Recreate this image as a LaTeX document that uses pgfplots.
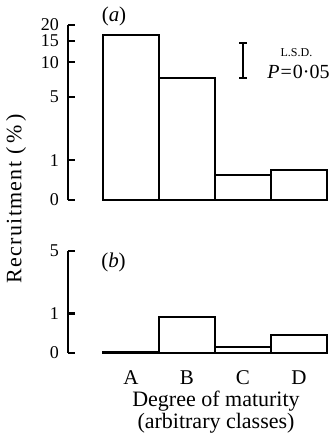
\documentclass[border=0pt]{standalone}
\usepackage{pgfplots}
\pgfplotsset{compat=1.18}
\usepackage{fontspec}
\setmainfont{Liberation Serif}
\begin{document}
\begin{tikzpicture}[x=1pt,y=1pt]
\useasboundingbox (0,0) rectangle (164.5,218);
\pgfplotsset{
  common/.style={
    scale only axis, anchor=south west, ymin=0,
    enlargelimits=false,
    y coord trafo/.code={\pgfmathparse{log10(##1+1)}},
    y coord inv trafo/.code={\pgfmathparse{10^(##1)-1}},
    clip=false,
  },
  yax/.style={
    common, width=20pt, xmin=0, xmax=1,
    axis x line=none, axis y line*=left,
    major tick length=0pt,
    y axis line style={line width=1pt, black},
    ytick style={draw=none},
    /pgf/number format/assume math mode=true,
    yticklabel style={font=\fontsize{9}{10}\selectfont, xshift=-1pt},
  },
  myax/.style={
    common, width=112pt,
    xmin=-0.5, xmax=3.5,
    axis y line=none,
    axis x line*=bottom, x axis line style={draw=none},
    xtick={0,1,2,3}, major x tick style={draw=none},
    xticklabel style={font=\fontsize{10.5}{11}\selectfont, yshift=-1pt},
    ybar, bar width=1,
  }
}
% y scale (a)
\begin{axis}[yax, at={(34pt,118pt)}, height=87.5pt, ymax=20,
  ytick={0,1,5,10,15,20}, yticklabels={0,1,5,10,15,20}]
\draw[line width=1.1pt] (axis cs:0,0) -- ++(3.5pt,0);
\draw[line width=1.1pt] (axis cs:0,1) -- ++(3.5pt,0);
\draw[line width=1.1pt] (axis cs:0,5) -- ++(3.5pt,0);
\draw[line width=1.1pt] (axis cs:0,10) -- ++(3.5pt,0);
\draw[line width=1.1pt] (axis cs:0,15) -- ++(3.5pt,0);
\draw[line width=1.1pt] (axis cs:0,20) -- ++(3.5pt,0);
\end{axis}
% panel (a)
\begin{axis}[myax, at={(51.5pt,118pt)}, height=87.5pt, ymax=20, xticklabels={}]
\addplot[draw=black, fill=white, line width=1pt] coordinates {(0,16.6) (1,7.35) (2,0.55) (3,0.69)};
\end{axis}
% y scale (b)
\begin{axis}[yax, at={(34pt,41.5pt)}, height=51pt, ymax=5,
  ytick={0,1,5}, yticklabels={0,1,5}]
\draw[line width=1.1pt] (axis cs:0,0) -- ++(3.5pt,0);
\draw[line width=1.1pt] (axis cs:0,1) -- ++(3.5pt,0);
\draw[line width=1.1pt] (axis cs:0,5) -- ++(3.5pt,0);
\end{axis}
% panel (b)
\begin{axis}[myax, at={(51.5pt,41.5pt)}, height=51pt, ymax=5, xticklabels={A,B,C,D}]
\addplot[draw=black, fill=white, line width=1pt] coordinates {(0,0.01) (1,0.89) (2,0.12) (3,0.37)};
\end{axis}
% panel letters
\node[font=\fontsize{10.5}{11}\selectfont] at (57,210) {(\textit{a})};
\node[font=\fontsize{10.5}{11}\selectfont] at (56.75,87) {(\textit{b})};
% LSD bar
\draw[line width=1pt] (121.75,196.5) -- (121.75,179);
\draw[line width=1pt] (119.75,196.5) -- (123.75,196.5);
\draw[line width=1pt] (119.75,179) -- (123.75,179);
\node[font=\fontsize{6}{7}\selectfont] at (148.25,191.5) {L.S.D.};
\node[font=\fontsize{10}{11}\selectfont, anchor=west, inner sep=0pt] at (133.5,182) {\textit{P}\kern0.5pt=\kern0.5pt0·05};
% axis labels
\node[rotate=90, font=\fontsize{11}{12}\selectfont\addfontfeature{LetterSpace=6}] at (8,118.5) {Recruitment (\,\%\,)};
\node[align=center, font=\fontsize{11}{10}\selectfont] at (108,12) {Degree of maturity\\(arbitrary classes)};
\end{tikzpicture}
\end{document}
